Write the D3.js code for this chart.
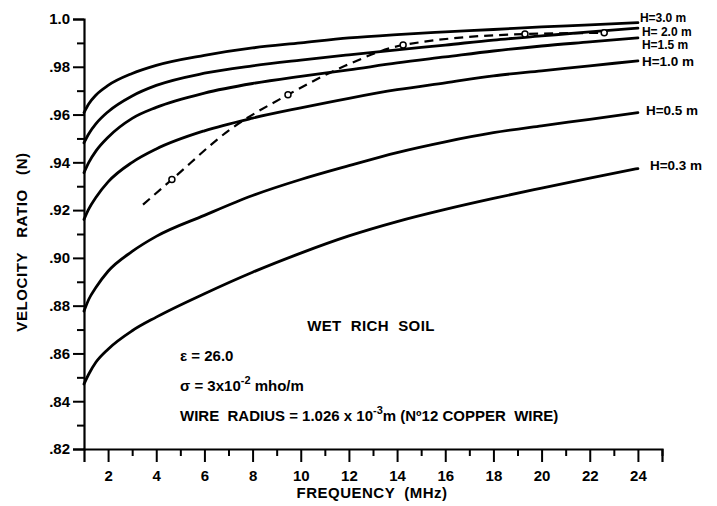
<!DOCTYPE html>
<html>
<head>
<meta charset="utf-8">
<script src="https://cdn.jsdelivr.net/npm/d3@7/dist/d3.min.js"></script>
<style>
  html, body { margin: 0; padding: 0; background: #fff; }
  svg { display: block; }
  text { font-family: "Liberation Sans", Arial, sans-serif; font-weight: bold; fill: #000; white-space: pre; }
</style>
</head>
<body>
<svg id="chart" width="717" height="506"></svg>
<script>
// ---- data ----
const freqs = [1, 1.2, 1.5, 2, 3, 4, 6, 8, 10, 12, 14, 16, 18, 20, 22, 24];
const seriesNames = ["H=3.0 m", "H= 2.0 m", "H=1.5 m", "H=1.0 m", "H=0.5 m", "H=0.3 m"];
const h30 = [0.9608, 0.9645, 0.9682, 0.9722, 0.9772, 0.9806, 0.9848, 0.9879, 0.9900, 0.9921, 0.9935, 0.9946, 0.9956, 0.9967, 0.9975, 0.9985];
const h20 = [0.9482, 0.9520, 0.9562, 0.9612, 0.9678, 0.9722, 0.9773, 0.9804, 0.9828, 0.9850, 0.9871, 0.9891, 0.9912, 0.9929, 0.9946, 0.9962];
const h15 = [0.9357, 0.9400, 0.9448, 0.9505, 0.9584, 0.9630, 0.9690, 0.9730, 0.9760, 0.9787, 0.9816, 0.9841, 0.9866, 0.9887, 0.9904, 0.9921];
const h10 = [0.9161, 0.9205, 0.9254, 0.9318, 0.9400, 0.9456, 0.9532, 0.9585, 0.9628, 0.9668, 0.9704, 0.9733, 0.9762, 0.9783, 0.9804, 0.9825];
const h05 = [0.8777, 0.8827, 0.8877, 0.8944, 0.9027, 0.9090, 0.9178, 0.9261, 0.9328, 0.9386, 0.9441, 0.9486, 0.9524, 0.9553, 0.9580, 0.9608];
const h03 = [0.8472, 0.8514, 0.8564, 0.8618, 0.8695, 0.8752, 0.8850, 0.8940, 0.9020, 0.9092, 0.9152, 0.9203, 0.9249, 0.9292, 0.9334, 0.9374];
const seriesValues = [h30, h20, h15, h10, h05, h03];

// dashed measured curve
const dashF = [3.45, 4.65, 7.06, 9.47, 11.84, 14.25, 19.31, 22.6];
const dashV = [0.9223, 0.9328, 0.9537, 0.9683, 0.9804, 0.9891, 0.9937, 0.9942];
const markF = [4.65, 9.47, 14.25, 19.31, 22.6];
const markV = [0.9328, 0.9683, 0.9891, 0.9937, 0.9942];

const xMajor = [2, 4, 6, 8, 10, 12, 14, 16, 18, 20, 22, 24];
const xMinor = [3, 5, 7, 9, 11, 13, 15, 17, 19, 21, 23, 25];
const yMajor = [1.0, 0.98, 0.96, 0.94, 0.92, 0.90, 0.88, 0.86, 0.84, 0.82];
const yMajorLabels = ["1.0", ".98", ".96", ".94", ".92", ".90", ".88", ".86", ".84", ".82"];
const yMinor = [0.99, 0.97, 0.95, 0.93, 0.91, 0.89, 0.87, 0.85, 0.83];

// ---- layout ----
const svg = d3.select("#chart");
const x = d3.scaleLinear().domain([1, 25]).range([84, 662]);
const y = d3.scaleLinear().domain([0.82, 1.0]).range([449, 19]);

// axes
const gx = svg.append("g").attr("transform", `translate(0,${y(0.82)})`);
gx.call(d3.axisBottom(x).tickValues(xMajor).tickSize(13).tickFormat(d3.format("d")).tickPadding(8));
const gxm = svg.append("g").attr("transform", `translate(0,${y(0.82)})`);
gxm.call(d3.axisBottom(x).tickValues(xMinor).tickSize(7).tickFormat(""));
const gy = svg.append("g").attr("transform", `translate(${x(1)},0)`);
gy.call(d3.axisLeft(y).tickValues(yMajor).tickSize(11).tickPadding(3)
  .tickFormat((d, i) => yMajorLabels[i]));
const gym = svg.append("g").attr("transform", `translate(${x(1)},0)`);
gym.call(d3.axisLeft(y).tickValues(yMinor).tickSize(7).tickFormat(""));

svg.selectAll(".domain").attr("stroke", "#000").attr("stroke-width", 2.2);
svg.selectAll(".tick line").attr("stroke", "#000").attr("stroke-width", 2);
gx.selectAll("text").attr("font-size", 15).attr("font-family", "Liberation Sans, Arial, sans-serif").attr("font-weight", "bold");
gy.selectAll("text").attr("font-size", 15).attr("font-family", "Liberation Sans, Arial, sans-serif").attr("font-weight", "bold");
gxm.select(".domain").remove();
gym.select(".domain").remove();

// curves
const line = d3.line().x(d => x(d[0])).y(d => y(d[1])).curve(d3.curveMonotoneX);
const labelDy = [-4.6, 3.5, 7.2, 0, -2, -3];
const labelDx = [2, 4, 4, 4, 8, 12];
seriesValues.forEach((vals, i) => {
  const pts = freqs.map((f, j) => [f, vals[j]]);
  svg.append("path").datum(pts).attr("d", line)
    .attr("fill", "none").attr("stroke", "#000").attr("stroke-width", 2.8)
    .attr("stroke-linecap", "round");
  const last = pts[pts.length - 1];
  svg.append("text").attr("x", x(last[0]) + labelDx[i]).attr("y", y(last[1]) + labelDy[i])
    .attr("dy", "0.35em").attr("font-size", i < 3 ? 12 : 13.5).text(seriesNames[i]);
});

// dashed curve
const dpts = dashF.map((f, j) => [f, dashV[j]]);
svg.append("path").datum(dpts).attr("d", line)
  .attr("fill", "none").attr("stroke", "#000").attr("stroke-width", 2.2)
  .attr("stroke-dasharray", "9,6");
svg.selectAll("circle.m").data(markF.map((f, j) => [f, markV[j]])).enter()
  .append("circle").attr("cx", d => x(d[0])).attr("cy", d => y(d[1])).attr("r", 3)
  .attr("fill", "#fff").attr("stroke", "#000").attr("stroke-width", 1.5);

// axis titles
svg.append("text").attr("x", 372).attr("y", 498).attr("text-anchor", "middle")
  .attr("font-size", 15).attr("letter-spacing", 0.5).text("FREQUENCY  (MHz)");
svg.append("text").attr("transform", "translate(27,242) rotate(-90)").attr("text-anchor", "middle")
  .attr("font-size", 15).attr("letter-spacing", 0.6).text("VELOCITY   RATIO   (N)");

// annotations
svg.append("text").attr("x", 371).attr("y", 331).attr("text-anchor", "middle")
  .attr("font-size", 15).attr("letter-spacing", 0.4).text("WET  RICH  SOIL");
svg.append("text").attr("x", 180).attr("y", 361).attr("font-size", 15).text("\u03b5 = 26.0");
const s = svg.append("text").attr("x", 180).attr("y", 391).attr("font-size", 15);
s.append("tspan").text("\u03c3 = 3x10");
s.append("tspan").attr("dy", -7).attr("font-size", 11).text("-2");
s.append("tspan").attr("dy", 7).text(" mho/m");
const w = svg.append("text").attr("x", 180).attr("y", 421).attr("font-size", 15);
w.append("tspan").text("WIRE  RADIUS = 1.026 x 10");
w.append("tspan").attr("dy", -7).attr("font-size", 11).text("-3");
w.append("tspan").attr("dy", 7).text("m (N\u00ba12 COPPER  WIRE)");
</script>
</body>
</html>
